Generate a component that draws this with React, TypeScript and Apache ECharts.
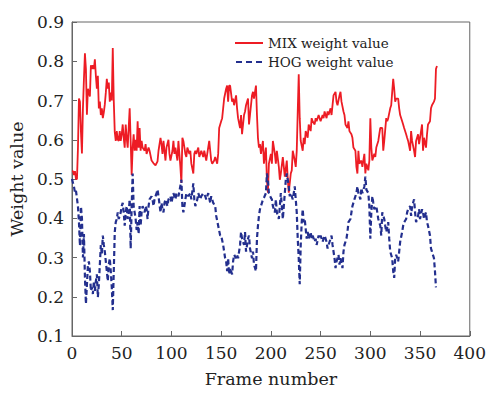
import React, { useEffect, useRef } from "react";
import * as echarts from "echarts";

const xTicks = { min: 0, max: 400, interval: 50 };
const yTicks = { min: 0.1, max: 0.9, interval: 0.1 };
const seriesNames = ["MIX weight value", "HOG weight value"];

// [frame, weight]
const mixPoints: [number, number][] = [
  [0,.52],[1,.52],[2,.51],[3,.52],[4,.50],[5,.50],[6,.58],[7,.705],[8,.697],[9,.62],[10,.565],[11,.68],[12,.755],[13,.82],[14,.78],[15,.664],[16,.73],[17,.72],[18,.71],[19,.79],[20,.78],[21,.79],[22,.78],[23,.805],[24,.763],[25,.73],[26,.763],[27,.68],[28,.697],[29,.663],[30,.68],[31,.655],[32,.67],[33,.69],[34,.72],[35,.755],[36,.73],[37,.746],[38,.697],[39,.72],[40,.70],[41,.834],[42,.70],[43,.62],[44,.597],[45,.622],[46,.60],[47,.597],[48,.622],[49,.597],[50,.614],[51,.639],[52,.605],[53,.58],[54,.639],[55,.605],[56,.58],[57,.63],[58,.68],[59,.597],[60,.51],[61,.58],[62,.614],[63,.572],[64,.60],[65,.572],[66,.647],[67,.58],[68,.63],[69,.572],[70,.597],[71,.58],[73,.572],[74,.589],[75,.564],[77,.58],[78,.572],[80,.547],[82,.54],[84,.535],[86,.545],[87,.572],[89,.605],[90,.589],[91,.564],[92,.597],[94,.547],[95,.58],[97,.60],[98,.564],[99,.547],[101,.572],[102,.597],[103,.564],[104,.58],[106,.547],[107,.597],[108,.564],[109,.531],[110,.49],[111,.605],[112,.597],[114,.564],[115,.556],[116,.58],[118,.564],[119,.572],[120,.539],[122,.514],[123,.564],[124,.572],[125,.564],[127,.58],[128,.556],[130,.572],[131,.564],[132,.556],[133,.572],[135,.547],[136,.564],[138,.597],[139,.572],[140,.547],[141,.539],[143,.547],[144,.556],[146,.539],[147,.564],[148,.63],[150,.647],[151,.655],[152,.68],[153,.705],[155,.73],[156,.738],[157,.697],[158,.738],[159,.738],[161,.697],[162,.705],[163,.688],[165,.713],[166,.68],[167,.655],[169,.63],[170,.663],[171,.614],[173,.663],[174,.672],[175,.688],[177,.705],[178,.639],[179,.663],[181,.713],[182,.722],[183,.705],[185,.738],[186,.663],[187,.605],[188,.58],[189,.589],[190,.564],[192,.597],[193,.539],[195,.58],[196,.498],[197,.465],[198,.539],[200,.564],[201,.539],[202,.597],[204,.564],[205,.539],[206,.572],[208,.531],[209,.498],[210,.514],[212,.556],[213,.531],[214,.506],[216,.547],[217,.498],[218,.465],[220,.514],[221,.522],[222,.572],[224,.547],[225,.531],[226,.572],[227,.672],[228,.767],[229,.655],[230,.597],[232,.572],[233,.605],[234,.589],[235,.622],[237,.605],[238,.639],[240,.622],[241,.655],[242,.647],[244,.639],[245,.655],[246,.647],[248,.663],[249,.655],[250,.647],[252,.663],[253,.655],[254,.672],[256,.655],[257,.672],[258,.663],[260,.68],[261,.663],[262,.688],[263,.713],[265,.722],[266,.697],[267,.688],[269,.713],[270,.722],[271,.697],[273,.672],[274,.663],[275,.639],[277,.63],[278,.647],[279,.622],[281,.614],[282,.605],[283,.58],[285,.572],[286,.531],[287,.514],[288,.572],[289,.539],[291,.547],[292,.531],[294,.564],[295,.514],[296,.539],[298,.522],[299,.547],[300,.655],[301,.58],[302,.547],[304,.564],[305,.556],[306,.58],[308,.597],[309,.614],[310,.63],[312,.63],[313,.572],[314,.597],[316,.655],[317,.647],[318,.655],[320,.68],[321,.688],[322,.722],[323,.755],[324,.73],[325,.697],[326,.705],[328,.705],[329,.68],[330,.663],[332,.647],[333,.639],[334,.63],[336,.614],[337,.605],[338,.597],[340,.572],[341,.622],[342,.597],[344,.572],[345,.556],[346,.597],[348,.614],[349,.589],[350,.605],[352,.639],[353,.572],[354,.605],[356,.58],[357,.614],[358,.639],[360,.647],[361,.68],[362,.688],[364,.697],[365,.705],[366,.78],[367,.788]
];

const hogPoints: [number, number][] = [
  [0,.50],[1,.49],[2,.48],[3,.465],[4,.47],[5,.45],[6,.43],[7,.39],[8,.33],[9,.43],[10,.40],[11,.30],[12,.36],[13,.25],[14,.182],[15,.23],[16,.28],[17,.29],[18,.265],[19,.215],[20,.224],[21,.207],[22,.24],[23,.215],[24,.24],[25,.257],[26,.199],[27,.232],[28,.282],[29,.332],[30,.307],[31,.356],[32,.332],[33,.315],[34,.29],[35,.265],[36,.24],[37,.282],[38,.298],[39,.265],[40,.224],[41,.166],[42,.265],[43,.365],[44,.39],[45,.398],[46,.415],[47,.398],[48,.406],[49,.415],[50,.431],[51,.439],[52,.415],[53,.381],[54,.415],[55,.431],[56,.398],[57,.415],[58,.448],[59,.323],[60,.431],[61,.514],[62,.431],[63,.415],[64,.398],[65,.37],[66,.39],[67,.36],[68,.431],[69,.381],[70,.415],[71,.431],[73,.415],[74,.431],[75,.423],[76,.398],[77,.431],[78,.448],[80,.456],[81,.448],[82,.431],[83,.448],[85,.464],[86,.473],[87,.456],[89,.415],[90,.439],[91,.423],[92,.415],[93,.439],[94,.448],[96,.431],[97,.448],[99,.456],[100,.439],[102,.464],[104,.448],[105,.464],[107,.456],[108,.468],[110,.498],[111,.431],[112,.415],[114,.448],[115,.464],[117,.456],[119,.464],[120,.448],[122,.489],[123,.448],[124,.431],[126,.448],[127,.464],[129,.448],[130,.456],[132,.464],[134,.456],[135,.448],[137,.464],[139,.439],[140,.456],[142,.439],[144,.431],[145,.406],[147,.381],[149,.356],[150,.356],[152,.332],[154,.298],[155,.29],[156,.265],[157,.298],[158,.257],[159,.273],[161,.257],[162,.29],[163,.307],[165,.298],[166,.307],[167,.298],[169,.332],[170,.365],[171,.348],[173,.332],[174,.365],[175,.315],[177,.348],[178,.356],[179,.323],[181,.298],[182,.315],[183,.282],[185,.265],[186,.348],[187,.381],[188,.406],[189,.423],[190,.431],[191,.439],[192,.448],[193,.452],[195,.464],[196,.514],[197,.498],[198,.464],[200,.452],[201,.448],[202,.431],[204,.415],[205,.448],[206,.415],[208,.398],[209,.431],[210,.464],[211,.431],[212,.398],[214,.464],[215,.498],[216,.514],[218,.481],[219,.456],[220,.464],[222,.448],[223,.464],[224,.481],[225,.448],[226,.415],[227,.348],[228,.298],[229,.232],[230,.332],[231,.39],[232,.423],[233,.39],[234,.398],[235,.373],[236,.348],[237,.365],[238,.348],[240,.365],[241,.348],[242,.356],[244,.34],[245,.348],[246,.332],[248,.356],[249,.348],[250,.356],[252,.34],[253,.348],[254,.356],[256,.34],[257,.323],[258,.332],[260,.348],[261,.356],[262,.332],[264,.298],[265,.273],[266,.29],[268,.307],[269,.282],[270,.298],[272,.273],[273,.315],[274,.332],[276,.348],[277,.365],[278,.39],[280,.398],[281,.415],[282,.431],[284,.448],[285,.456],[286,.464],[287,.481],[288,.464],[290,.448],[291,.477],[292,.464],[294,.481],[295,.506],[296,.473],[298,.464],[299,.431],[300,.348],[301,.415],[302,.456],[303,.439],[304,.423],[306,.431],[307,.415],[308,.398],[310,.381],[311,.356],[312,.415],[314,.398],[315,.381],[316,.365],[318,.39],[319,.348],[320,.315],[322,.298],[323,.265],[324,.248],[325,.298],[326,.307],[328,.29],[329,.315],[330,.34],[332,.365],[333,.381],[334,.39],[336,.398],[337,.415],[338,.423],[340,.431],[341,.406],[342,.431],[344,.448],[345,.415],[346,.39],[348,.406],[349,.423],[350,.398],[352,.423],[353,.415],[354,.398],[356,.415],[357,.39],[358,.381],[360,.356],[361,.323],[362,.315],[364,.298],[365,.265],[366,.224]
];

const FONT = "DejaVu Serif";
const RED = "#ed1c24";
const BLUE = "#232f8e";
const SOLID_ICON = "path://M0,0L28,0L28,2L0,2Z";
const DASH_ICON = "path://M0,0L6,0L6,2L0,2ZM10,0L16,0L16,2L10,2ZM20,0L26,0L26,2L20,2Z";

export default function App() {
  const ref = useRef<HTMLDivElement>(null);
  useEffect(() => {
    document.body.style.margin = "0";
    if (!ref.current) return;
    const chart = echarts.init(ref.current, null, { renderer: "svg" });
    chart.setOption({
      animation: false,
      backgroundColor: "#ffffff",
      textStyle: { fontFamily: FONT },
      grid: {
        left: 72, right: 14, top: 22, bottom: 50,
        show: true, borderColor: "#666", borderWidth: 1, backgroundColor: "transparent",
      },
      legend: {
        orient: "vertical",
        left: 230, top: 31,
        itemWidth: 28, itemHeight: 2, itemGap: 5,
        textStyle: { fontFamily: FONT, fontSize: 13.5, color: "#222" },
        data: [
          { name: seriesNames[0], icon: SOLID_ICON, itemStyle: { color: RED } },
          { name: seriesNames[1], icon: DASH_ICON, itemStyle: { color: BLUE } },
        ],
      },
      xAxis: {
        type: "value",
        min: xTicks.min, max: xTicks.max, interval: xTicks.interval,
        name: "Frame number",
        nameLocation: "middle",
        nameGap: 34,
        nameTextStyle: { fontFamily: FONT, fontSize: 17.5, color: "#222" },
        axisLine: { show: true, lineStyle: { color: "#666", width: 1 } },
        axisTick: { show: true, inside: true, length: 5, lineStyle: { color: "#666" } },
        axisLabel: { fontFamily: FONT, fontSize: 17, color: "#222", margin: 8 },
        splitLine: { show: false },
      },
      yAxis: {
        type: "value",
        min: yTicks.min, max: yTicks.max, interval: yTicks.interval,
        name: "Weight value",
        nameLocation: "middle",
        nameGap: 41,
        nameTextStyle: { fontFamily: FONT, fontSize: 17.5, color: "#222" },
        axisLine: { show: true, lineStyle: { color: "#666", width: 1 } },
        axisTick: { show: true, inside: true, length: 5, lineStyle: { color: "#666" } },
        axisLabel: {
          fontFamily: FONT, fontSize: 17, color: "#222", margin: 8,
          formatter: (v: number) => v.toFixed(1),
        },
        splitLine: { show: false },
      },
      series: [
        {
          name: seriesNames[0],
          type: "line",
          data: mixPoints,
          symbol: "none",
          lineStyle: { color: RED, width: 1.8 },
          itemStyle: { color: RED },
        },
        {
          name: seriesNames[1],
          type: "line",
          data: hogPoints,
          symbol: "none",
          lineStyle: { color: BLUE, width: 2.2, type: [5, 3] },
          itemStyle: { color: BLUE },
        },
      ],
    });
    return () => chart.dispose();
  }, []);
  return (
    <div
      ref={ref}
      style={{ position: "absolute", left: 0, top: 0, width: 489, height: 393 }}
    />
  );
}
